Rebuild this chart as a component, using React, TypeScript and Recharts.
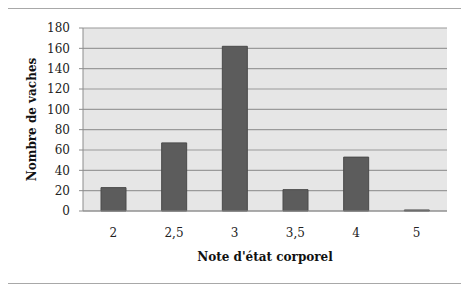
import { BarChart, Bar, XAxis, YAxis, CartesianGrid } from "recharts";

const categories = ["2", "2,5", "3", "3,5", "4", "5"];
const vaches = [23, 67, 162, 21, 53, 1];
const yTicks = [0, 20, 40, 60, 80, 100, 120, 140, 160, 180];

const data = categories.map((note, i) => ({ note, vaches: vaches[i] }));

const font = "'DejaVu Serif', serif";

export default function App() {
  return (
    <div
      style={{
        position: "relative",
        marginLeft: -7,
        width: 463,
        height: 274,
        border: "1px solid #a8a8a8",
        background: "#fff",
      }}
    >
      <div style={{ position: "absolute", left: -2, top: -9 }}>
        <BarChart
          width={469}
          height={284}
          data={data}
          margin={{ top: 28, right: 22, bottom: 18, left: 23 }}
        >
          <CartesianGrid vertical={false} fill="#e6e6e6" stroke="#9a9a9a" strokeWidth={1.2} />
          <XAxis
            dataKey="note"
            height={55}
            tickLine={false}
            tickMargin={11}
            axisLine={{ stroke: "#8c8c8c" }}
            tick={{ fontSize: 12, fill: "#222", fontFamily: font }}
            label={{
              value: "Note d'état corporel",
              position: "insideBottom",
              offset: 5,
              style: { fontSize: 12, fontWeight: "bold", fill: "#111", fontFamily: font },
            }}
          />
          <YAxis
            width={60}
            domain={[0, 180]}
            ticks={yTicks}
            interval={0}
            tickSize={4}
            tickMargin={9}
            tickLine={{ stroke: "#8c8c8c" }}
            axisLine={{ stroke: "#8c8c8c" }}
            tick={{ fontSize: 12, fill: "#222", fontFamily: font }}
            label={{
              value: "Nombre de vaches",
              angle: -90,
              position: "insideLeft",
              offset: 9,
              style: { textAnchor: "middle", fontSize: 12, fontWeight: "bold", fill: "#111", fontFamily: font },
            }}
          />
          <Bar dataKey="vaches" fill="#5c5c5c" stroke="#4a4a4a" barSize={25} isAnimationActive={false} />
        </BarChart>
      </div>
    </div>
  );
}
